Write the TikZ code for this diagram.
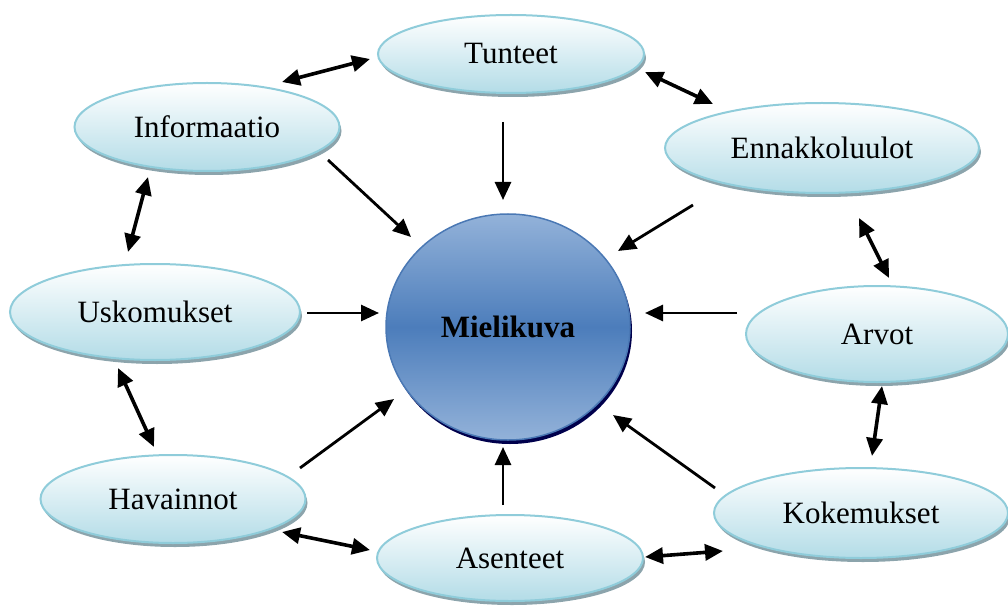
\documentclass[tikz,border=0pt]{standalone}
\usepackage{fontspec}
\setmainfont{Liberation Serif}
\usetikzlibrary{shapes.geometric,shadows,arrows.meta}
\tikzset{>={Triangle[width=16pt,length=18pt]}}
\definecolor{rimblue}{HTML}{8FCCDA}
\definecolor{paleblue}{HTML}{B3DCE7}
\definecolor{shadowgray}{HTML}{8CA4AC}
\definecolor{coreblue}{HTML}{4C7DBB}
\definecolor{corelight}{HTML}{93B2D9}
\definecolor{coreedge}{HTML}{4A78B4}
\tikzset{
  idea/.style={ellipse, draw=rimblue, line width=2pt, inner sep=0pt,
    top color=white, bottom color=paleblue,
    drop shadow={shadow xshift=2pt, shadow yshift=-4pt, fill=shadowgray, opacity=1},
    font=\fontsize{31}{36}\selectfont},
  core/.style={ellipse, draw=coreedge, line width=1.5pt, inner sep=0pt,
    top color=corelight, bottom color=corelight, middle color=coreblue,
    drop shadow={shadow xshift=2pt, shadow yshift=-4pt, fill=black!70!blue, opacity=1},
    font=\fontsize{31}{36}\selectfont\bfseries},
  link/.style={line width=3.6pt, <->},
  feed/.style={line width=2.8pt, ->}
}
\begin{document}
\begin{tikzpicture}[x=1pt,y=-1pt]
\useasboundingbox (0,0) rectangle (1008,612);

% the ring of ellipses
\node[idea, minimum width=266pt, minimum height=78pt] (tunteet) at (511,54) {Tunteet};
\node[idea, minimum width=265pt, minimum height=88pt] (info) at (207,127) {Informaatio};
\node[idea, minimum width=314pt, minimum height=90pt] (ennakko) at (822,148) {Ennakkoluulot};
\node[idea, minimum width=290pt, minimum height=96pt] (usko) at (155,312) {Uskomukset};
\node[idea, minimum width=262pt, minimum height=96pt] (arvot) at (877,334) {Arvot};
\node[idea, minimum width=265pt, minimum height=88pt] (havain) at (173,499) {Havainnot};
\node[idea, minimum width=266pt, minimum height=86pt] (asent) at (510,558) {Asenteet};
\node[idea, minimum width=294pt, minimum height=90pt] (koke) at (861,513) {Kokemukset};

% centre
\node[core, minimum width=244pt, minimum height=226pt] (mieli) at (508,327) {Mielikuva};

% arrow ends
\coordinate (t1) at (503,122); \coordinate (t2) at (503,200);
\coordinate (i1) at (328,160); \coordinate (i2) at (411,237);
\coordinate (e1) at (693,205); \coordinate (e2) at (618,251);
\coordinate (u1) at (307,313); \coordinate (u2) at (379,313);
\coordinate (a1) at (737,313); \coordinate (a2) at (645,313);
\coordinate (h1) at (300,468); \coordinate (h2) at (394,399);
\coordinate (s1) at (503,505); \coordinate (s2) at (503,447);
\coordinate (k1) at (715,488); \coordinate (k2) at (613,415);

\draw[feed] (t1) -- (t2);
\draw[feed] (i1) -- (i2);
\draw[feed] (e1) -- (e2);
\draw[feed] (u1) -- (u2);
\draw[feed] (a1) -- (a2);
\draw[feed] (h1) -- (h2);
\draw[feed] (s1) -- (s2);
\draw[feed] (k1) -- (k2);

% two way links
\coordinate (it1) at (282,82);  \coordinate (it2) at (370,59);
\coordinate (te1) at (645,72);  \coordinate (te2) at (713,104);
\coordinate (iu1) at (148,177); \coordinate (iu2) at (128,252);
\coordinate (ea1) at (859,218); \coordinate (ea2) at (889,278);
\coordinate (uh1) at (118,368); \coordinate (uh2) at (154,447);
\coordinate (ak1) at (882,386); \coordinate (ak2) at (872,456);
\coordinate (hs1) at (282,532); \coordinate (hs2) at (370,550);
\coordinate (sk1) at (645,557); \coordinate (sk2) at (723,551);

\draw[link] (it1) -- (it2);
\draw[link] (te1) -- (te2);
\draw[link] (iu1) -- (iu2);
\draw[link] (ea1) -- (ea2);
\draw[link] (uh1) -- (uh2);
\draw[link] (ak1) -- (ak2);
\draw[link] (hs1) -- (hs2);
\draw[link] (sk1) -- (sk2);
\end{tikzpicture}
\end{document}
